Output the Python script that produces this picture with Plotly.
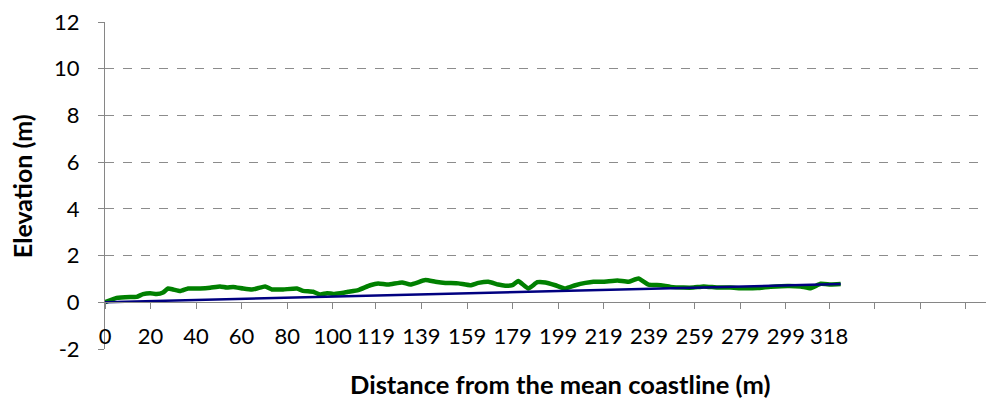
import plotly.graph_objects as go

# distance from mean coastline (m) and profile elevation (m)
distance = [0, 5.1, 11.0, 13.9, 16.7, 19.8, 22.7, 25.5, 27.7, 29.9, 33.0, 36.5, 41.8, 46.2,
            50.5, 53.5, 56.3, 60.7, 64.5, 66.7, 70.3, 73.3, 78.2, 84.3, 87.0, 91.4, 94.5,
            97.5, 100.2, 103.3, 106.8, 111.2, 116.5, 120.0, 124.4, 130.5, 134.1, 140.7,
            145.1, 149.5, 155.2, 160.4, 164.0, 168.4, 172.7, 175.8, 178.9, 181.5, 185.9,
            189.9, 193.4, 197.8, 202.2, 206.6, 211.0, 214.5, 218.9, 225.1, 229.9, 234.3,
            238.7, 244.0, 248.4, 254.1, 258.5, 262.9, 269.0, 274.7, 280.4, 286.6, 292.3,
            299.8, 305.5, 309.9, 314.3, 318.7, 323.1]
elevation = [0, 0.19, 0.23, 0.23, 0.35, 0.39, 0.35, 0.42, 0.59, 0.55, 0.48, 0.59, 0.59, 0.62,
             0.68, 0.63, 0.66, 0.59, 0.55, 0.59, 0.68, 0.55, 0.55, 0.59, 0.49, 0.45, 0.33,
             0.39, 0.36, 0.39, 0.45, 0.52, 0.73, 0.81, 0.76, 0.85, 0.76, 0.95,
             0.88, 0.83, 0.81, 0.73, 0.83, 0.88, 0.76, 0.71, 0.73, 0.91, 0.59,
             0.86, 0.85, 0.73, 0.59, 0.73, 0.83, 0.88, 0.88, 0.93, 0.88, 1.02,
             0.76, 0.73, 0.66, 0.63, 0.63, 0.68, 0.63, 0.63, 0.60, 0.61, 0.66,
             0.70, 0.68, 0.60, 0.79, 0.76, 0.78]

# straight reference line
ref_distance = [0, 323.1]
ref_elevation = [0, 0.78]

# category labels shown on the x axis, plus the unlabelled ticks after them
x_labels = [0, 20, 40, 60, 80, 100, 119, 139, 159, 179, 199, 219, 239, 259, 279, 299, 318]
x_extra_ticks = [338, 358, 378]
y_ticks = [-2, 0, 2, 4, 6, 8, 10, 12]

FONT = "Lato"

fig = go.Figure()

fig.add_trace(go.Scatter(
    x=distance, y=elevation, mode='lines',
    line=dict(color='#008000', width=4.5, shape='spline', smoothing=0.4),
    showlegend=False
))
fig.add_trace(go.Scatter(
    x=ref_distance, y=ref_elevation, mode='lines',
    line=dict(color='#000080', width=2.5),
    showlegend=False
))

# the page body has an 8px margin, so the figure is sized to fit inside the window
fig.update_layout(
    width=986, height=390,
    margin=dict(l=97, r=1, t=14, b=49),
    plot_bgcolor='white', paper_bgcolor='white',
    font=dict(family=FONT, size=22, color='black'),
    xaxis=dict(
        range=[0, 390], anchor='free', position=2 / 14,
        tickvals=x_labels + x_extra_ticks,
        ticktext=[str(v) for v in x_labels] + [''] * len(x_extra_ticks),
        ticks='outside', ticklen=6, tickcolor='#868686', ticklabelstandoff=8,
        showline=True, linecolor='#868686', linewidth=1,
        showgrid=False, zeroline=False,
    ),
    yaxis=dict(
        range=[-2, 12.002], tickvals=y_ticks, ticktext=[str(v) for v in y_ticks],
        ticks='outside', ticklen=6, tickcolor='#868686', ticklabelstandoff=14,
        ticklabeloverflow='allow',
        showline=True, linecolor='#868686', linewidth=1,
        showgrid=True, gridcolor='#8c8c8c', griddash='dash', gridwidth=1,
        zeroline=False,
    ),
    annotations=[
        dict(text='<b>Distance from the mean coastline (m)</b>', xref='paper', yref='paper',
             x=0.5124, y=-0.106, xanchor='center', yanchor='middle', showarrow=False,
             font=dict(family=FONT, size=25.5)),
        dict(text='<b>Elevation (m)</b>', xref='paper', yref='paper',
             x=-0.0935, y=0.498, xanchor='center', yanchor='middle', showarrow=False,
             textangle=-90, font=dict(family=FONT, size=25)),
    ],
)

fig.write_html("out.html")
